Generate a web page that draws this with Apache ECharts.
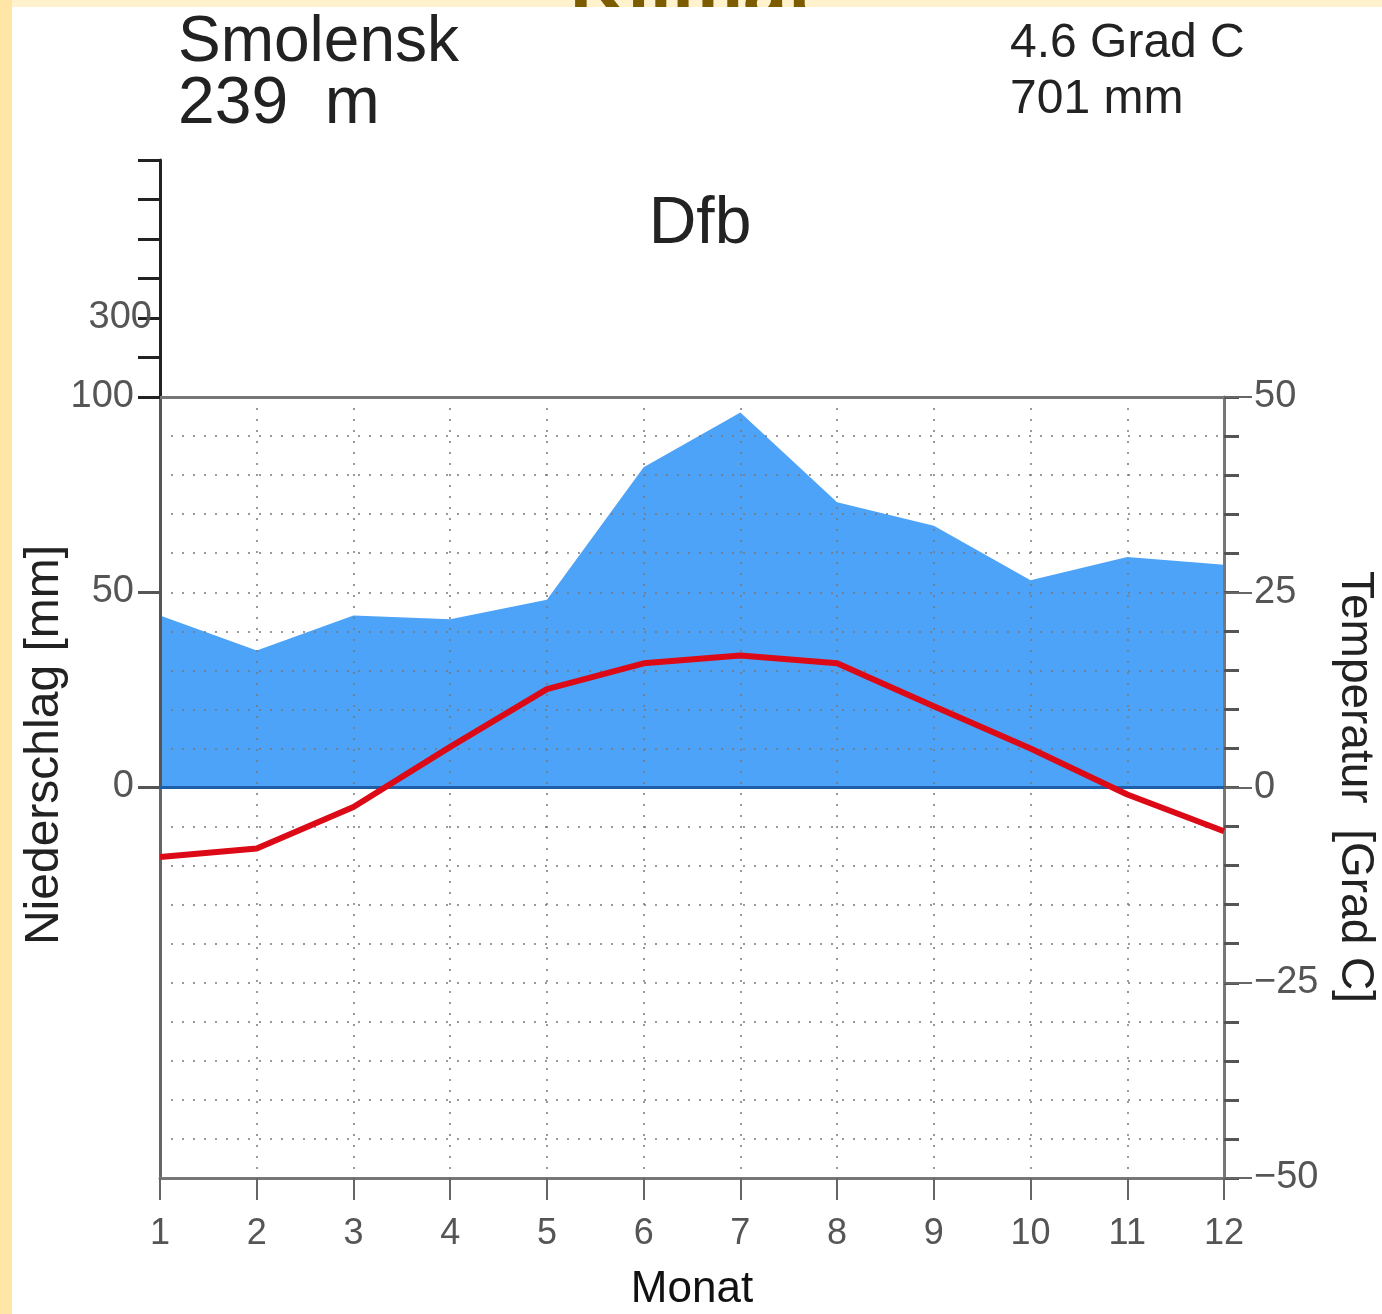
<!DOCTYPE html>
<html>
<head>
<meta charset="utf-8">
<script src="https://cdn.jsdelivr.net/npm/echarts@6/dist/echarts.min.js"></script>
<style>
  html, body { margin: 0; padding: 0; background: #fff; }
  #chart { width: 1382px; height: 1314px; }
</style>
</head>
<body>
<div id="chart"></div>
<script>
// Klimadiagramm Smolensk
const months = [1, 2, 3, 4, 5, 6, 7, 8, 9, 10, 11, 12];
const precip = [44, 35, 44, 43, 48, 82, 96, 73, 67, 53, 59, 57];   // mm
const temp = [-8.9, -7.8, -2.5, 5.2, 12.6, 15.9, 16.9, 15.9, 10.4, 5.0, -0.9, -5.6]; // Grad C
const precipLabels = [0, 50, 100];
const extLabels = [300];

const FONT = "'Liberation Sans', Arial, sans-serif";
const GRID = { left: 160, right: 158 };
const dotted = { color: "#7a7a7a", width: 1.5, type: [2, 9] };

const chart = echarts.init(document.getElementById("chart"));

const minus = v => (v < 0 ? "\u2212" + (-v) : String(v));

chart.setOption({
  backgroundColor: "#fff",
  animation: false,
  grid: [
    { ...GRID, top: 397, bottom: 136 },          // temperatur
    { ...GRID, top: 397, height: 390 },          // niederschlag 0-100
    { ...GRID, top: 160, height: 237 }           // niederschlag > 100
  ],
  xAxis: [
    {
      gridIndex: 0, type: "value", min: 1, max: 12, interval: 1, z: 3,
      axisLine: { onZero: false, lineStyle: { color: "#777", width: 3 } },
      axisTick: { length: 22, lineStyle: { color: "#666", width: 2 } },
      axisLabel: { margin: 38, fontSize: 36, color: "#555", fontFamily: FONT },
      splitLine: { show: true, lineStyle: dotted }
    },
    {
      gridIndex: 0, type: "value", min: 1, max: 12, position: "top", z: 3,
      axisLine: { onZero: false, lineStyle: { color: "#777", width: 3 } },
      axisTick: { show: false }, axisLabel: { show: false }, splitLine: { show: false }
    },
    { gridIndex: 1, type: "value", min: 1, max: 12, show: false },
    { gridIndex: 2, type: "value", min: 1, max: 12, show: false }
  ],
  yAxis: [
    {
      gridIndex: 0, type: "value", position: "right", min: -50, max: 50, interval: 5, z: 3,
      axisLine: { show: true, onZero: false, lineStyle: { color: "#777", width: 3 } },
      axisTick: { length: 15, lineStyle: { color: "#555", width: 3 } },
      axisLabel: { show: false },
      splitLine: { show: true, lineStyle: dotted }
    },
    {
      gridIndex: 0, type: "value", position: "right", min: -50, max: 50, interval: 25, z: 3,
      axisLine: { show: false, onZero: false },
      axisTick: { length: 28, lineStyle: { color: "#666", width: 2 } },
      axisLabel: { margin: 30, fontSize: 38, color: "#555", fontFamily: FONT, formatter: minus },
      splitLine: { show: false }
    },
    {
      gridIndex: 0, type: "value", position: "left", min: -50, max: 50, z: 3,
      axisLine: { show: true, onZero: false, lineStyle: { color: "#666", width: 3 } },
      axisTick: { show: false }, axisLabel: { show: false }, splitLine: { show: false }
    },
    {
      gridIndex: 1, type: "value", position: "left", min: 0, max: 100, interval: 50, z: 3,
      axisLine: { show: true, onZero: false, lineStyle: { color: "#555", width: 3 } },
      axisTick: { length: 22, lineStyle: { color: "#555", width: 3 } },
      axisLabel: {
        margin: 26, fontSize: 38, color: "#555", fontFamily: FONT,
        formatter: v => (precipLabels.includes(v) ? String(v) : "")
      },
      splitLine: { show: false }
    },
    {
      gridIndex: 2, type: "value", position: "left", min: 100, max: 700, interval: 100, z: 3,
      axisLine: { show: true, onZero: false, lineStyle: { color: "#222", width: 3 } },
      axisTick: { length: 22, lineStyle: { color: "#222", width: 3 } },
      axisLabel: {
        margin: 8, fontSize: 38, color: "#555", fontFamily: FONT,
        formatter: v => (extLabels.includes(v) ? String(v) : "")
      },
      splitLine: { show: false }
    }
  ],
  series: [
    {
      name: "Niederschlag",
      type: "line",
      xAxisIndex: 2, yAxisIndex: 3,
      data: months.map((m, i) => [m, precip[i]]),
      symbol: "none",
      lineStyle: { width: 0 },
      areaStyle: { color: "#4da3f7", opacity: 1 },
      z: 2,
      markLine: {
        silent: true, symbol: "none", label: { show: false },
        lineStyle: { color: "#1d5ea8", width: 3, type: "solid" },
        data: [{ yAxis: 0 }]
      }
    },
    {
      name: "Temperatur",
      type: "line",
      xAxisIndex: 0, yAxisIndex: 0,
      data: months.map((m, i) => [m, temp[i]]),
      symbol: "none",
      lineStyle: { color: "#dc0a16", width: 6 },
      z: 6
    }
  ],
  graphic: [
    // Folienhintergrund
    { type: "rect", z: -10, shape: { x: 0, y: 0, width: 1382, height: 1314 }, style: { fill: "#fff2cc" } },
    { type: "rect", z: -10, shape: { x: 0, y: 0, width: 12, height: 1314 }, style: { fill: "#ffe6a6" } },
    { type: "text", z: -9, x: 692, y: -6, style: { text: "Klimat", fill: "#7d5c00", font: "bold 80px " + FONT, align: "center", verticalAlign: "middle" } },
    { type: "rect", z: -8, shape: { x: 12, y: 7, width: 1370, height: 1307 }, style: { fill: "#fff" } },
    // Titel
    { type: "text", x: 178, y: 43, style: { text: "Smolensk", fill: "#222", font: "64px " + FONT, verticalAlign: "middle" } },
    { type: "text", x: 178, y: 105, style: { text: "239  m", fill: "#222", font: "66px " + FONT, verticalAlign: "middle" } },
    { type: "text", x: 1010, y: 44, style: { text: "4.6 Grad C", fill: "#222", font: "48px " + FONT, verticalAlign: "middle" } },
    { type: "text", x: 1010, y: 100, style: { text: "701 mm", fill: "#222", font: "48px " + FONT, verticalAlign: "middle" } },
    { type: "text", x: 700, y: 225, style: { text: "Dfb", fill: "#222", font: "66px " + FONT, align: "center", verticalAlign: "middle" } },
    // Achsentitel
    { type: "text", x: 692, y: 1290, style: { text: "Monat", fill: "#111", font: "44px " + FONT, align: "center", verticalAlign: "middle" } },
    { type: "text", x: 45, y: 745, rotation: Math.PI / 2, style: { text: "Niederschlag [mm]", fill: "#222", font: "48px " + FONT, align: "center", verticalAlign: "middle" } },
    { type: "text", x: 1355, y: 787, rotation: -Math.PI / 2, style: { text: "Temperatur  [Grad C]", fill: "#222", font: "46px " + FONT, align: "center", verticalAlign: "middle" } }
  ]
});
</script>
</body>
</html>
